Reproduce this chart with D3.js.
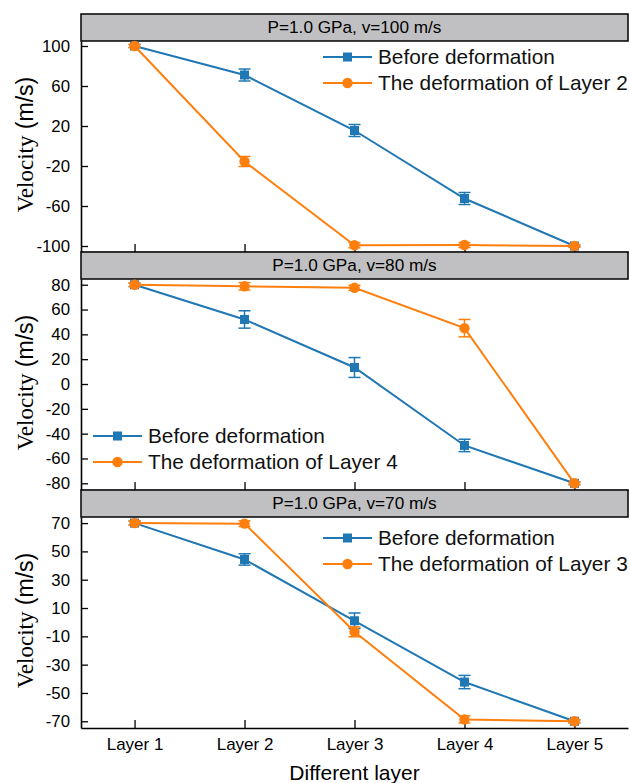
<!DOCTYPE html>
<html>
<head>
<meta charset="utf-8">
<script src="https://cdn.jsdelivr.net/npm/d3@7"></script>
<style>
  body { margin: 0; background: #fff; }
  svg { display: block; }
</style>
</head>
<body>
<div id="chart"></div>
<script>
// layers along the x axis
const layers = ["Layer 1", "Layer 2", "Layer 3", "Layer 4", "Layer 5"]
const titles = ["P=1.0 GPa, v=100 m/s", "P=1.0 GPa, v=80 m/s", "P=1.0 GPa, v=70 m/s"]
const deformedNames = ["The deformation of Layer 2", "The deformation of Layer 4", "The deformation of Layer 3"]

// panel 1 (v=100)
const before100 = [100, 71, 15.5, -52.5, -100]
const before100Err = [1.5, 6, 6, 6, 1]
const deformed100 = [100, -15.5, -99.3, -99, -100]
const deformed100Err = [1.5, 5, 2.5, 2.5, 1]
const ticks100 = [100, 60, 20, -20, -60, -100]

// panel 2 (v=80)
const before80 = [80, 52, 13.3, -49.5, -80]
const before80Err = [1.5, 7, 8, 5, 1]
const deformed80 = [80, 78.7, 77.5, 45, -80]
const deformed80Err = [1.5, 3, 2, 7, 1]
const ticks80 = [80, 60, 40, 20, 0, -20, -40, -60, -80]

// panel 3 (v=70)
const before70 = [70, 44.3, 1, -42.3, -70]
const before70Err = [1.5, 4, 5.5, 4.7, 1]
const deformed70 = [70, 69.6, -6.8, -68.7, -70]
const deformed70Err = [1.5, 2, 3.5, 2.5, 1]
const ticks70 = [70, 50, 30, 10, -10, -30, -50, -70]

const blue = "#1f77b4", orange = "#ff7f0e"
const sans = "'Liberation Sans', Arial, sans-serif"
const serif = "'Liberation Serif', 'Times New Roman', serif"

const panels = [
  { title: titles[0], b: before100, be: before100Err, d: deformed100, de: deformed100Err, ticks: ticks100, domain: [-106, 105], legend: [323, 57], name: deformedNames[0] },
  { title: titles[1], b: before80, be: before80Err, d: deformed80, de: deformed80Err, ticks: ticks80, domain: [-85.4, 84.6], legend: [93, 436], name: deformedNames[1] },
  { title: titles[2], b: before70, be: before70Err, d: deformed70, de: deformed70Err, ticks: ticks70, domain: [-74.75, 74.3], legend: [323, 538], name: deformedNames[2] }
]

const W = 630, H = 783
const left = 81, right = 628, top0 = 14
const headerH = 27, plotH = 211

const svg = d3.select("#chart").append("svg")
  .attr("width", W).attr("height", H)
  .attr("font-family", sans)

const x = d3.scalePoint().domain(layers).range([left, right]).padding(0.487)

panels.forEach((p, i) => {
  const hTop = top0 + i * (headerH + plotH)
  const pTop = hTop + headerH
  const pBot = pTop + plotH
  const y = d3.scaleLinear().domain(p.domain).range([pBot, pTop])
  const g = svg.append("g")

  // y axis, ticks point inward, plain hyphen for negatives
  const ya = g.append("g").attr("transform", `translate(${left},0)`)
    .call(d3.axisLeft(y).tickValues(p.ticks).tickFormat(d => String(d))
      .tickSize(-7).tickSizeOuter(0).tickPadding(11))
  ya.attr("font-family", sans)
  ya.select(".domain").attr("stroke-width", 1.6)
  ya.selectAll(".tick line").attr("stroke-width", 1.3)
  ya.selectAll("text").attr("font-size", 16.8).attr("fill", "#000")

  // x axis (ticks pointing up)
  const xa = g.append("g").attr("transform", `translate(0,${pBot})`)
    .call(d3.axisBottom(x).tickSize(-8).tickSizeOuter(0).tickPadding(10))
  xa.attr("font-family", sans)
  xa.select(".domain").attr("stroke-width", 1.6)
  xa.selectAll(".tick line").attr("stroke-width", 1.3)
  xa.selectAll("text").attr("font-size", 17).attr("fill", "#000")
  if (i < panels.length - 1) xa.selectAll("text").remove()

  // header strip
  g.append("rect").attr("x", left).attr("y", hTop).attr("width", right - left).attr("height", headerH)
    .attr("fill", "#c0c0c3").attr("stroke", "#000").attr("stroke-width", 1.5)
  g.append("text").attr("x", (left + right) / 2).attr("y", hTop + headerH / 2 + 1)
    .attr("text-anchor", "middle").attr("dominant-baseline", "middle")
    .attr("font-size", 17.2).text(p.title)

  // y title: serif word, sans unit
  const yt = g.append("text")
    .attr("transform", `translate(33,${(pTop + pBot) / 2 - 2}) rotate(-90)`)
    .attr("text-anchor", "middle").attr("font-size", 23)
    .attr("font-family", serif)
  yt.append("tspan").text("Velocity")
  yt.append("tspan").attr("font-family", sans).style("font-family", sans).text("\u00a0(m/s)")

  const series = [
    { v: p.b, e: p.be, color: blue, shape: "square" },
    { v: p.d, e: p.de, color: orange, shape: "circle" }
  ]
  const line = d3.line().x((d, j) => x(layers[j])).y(d => y(d))

  series.forEach(s => {
    const sg = g.append("g")
    sg.append("path").datum(s.v).attr("d", line)
      .attr("fill", "none").attr("stroke", s.color).attr("stroke-width", 2)
    // error bars
    const eb = sg.selectAll(".eb").data(s.v).enter().append("g")
    eb.append("line")
      .attr("x1", (d, j) => x(layers[j])).attr("x2", (d, j) => x(layers[j]))
      .attr("y1", (d, j) => y(d + s.e[j])).attr("y2", (d, j) => y(d - s.e[j]))
      .attr("stroke", s.color).attr("stroke-width", 1.5)
    ;[1, -1].forEach(sign => {
      eb.append("line")
        .attr("x1", (d, j) => x(layers[j]) - 6).attr("x2", (d, j) => x(layers[j]) + 6)
        .attr("y1", (d, j) => y(d + sign * s.e[j])).attr("y2", (d, j) => y(d + sign * s.e[j]))
        .attr("stroke", s.color).attr("stroke-width", 1.5)
    })
    if (s.shape === "square") {
      sg.selectAll(".m").data(s.v).enter().append("rect")
        .attr("x", (d, j) => x(layers[j]) - 4.5).attr("y", d => y(d) - 4.5)
        .attr("width", 9).attr("height", 9).attr("fill", s.color)
    } else {
      sg.selectAll(".m").data(s.v).enter().append("circle")
        .attr("cx", (d, j) => x(layers[j])).attr("cy", d => y(d))
        .attr("r", 5.2).attr("fill", s.color)
    }
  })

  // legend
  const lg = g.append("g").attr("transform", `translate(${p.legend[0]},${p.legend[1]})`)
  const items = [
    { name: "Before deformation", color: blue, shape: "square" },
    { name: p.name, color: orange, shape: "circle" }
  ]
  items.forEach((it, k) => {
    const row = lg.append("g").attr("transform", `translate(0,${k * 26})`)
    row.append("line").attr("x1", 0).attr("x2", 49).attr("y1", 0).attr("y2", 0)
      .attr("stroke", it.color).attr("stroke-width", 2)
    if (it.shape === "square") {
      row.append("rect").attr("x", 24.5 - 4.5).attr("y", -4.5).attr("width", 9).attr("height", 9).attr("fill", it.color)
    } else {
      row.append("circle").attr("cx", 24.5).attr("cy", 0).attr("r", 5.2).attr("fill", it.color)
    }
    row.append("text").attr("x", 55).attr("y", 1).attr("dominant-baseline", "middle")
      .attr("font-size", 20.8).attr("fill", "#111").text(it.name)
  })
})

// x title
svg.append("text").attr("x", (left + right) / 2).attr("y", 780)
  .attr("text-anchor", "middle").attr("font-size", 21).text("Different layer")
</script>
</body>
</html>
